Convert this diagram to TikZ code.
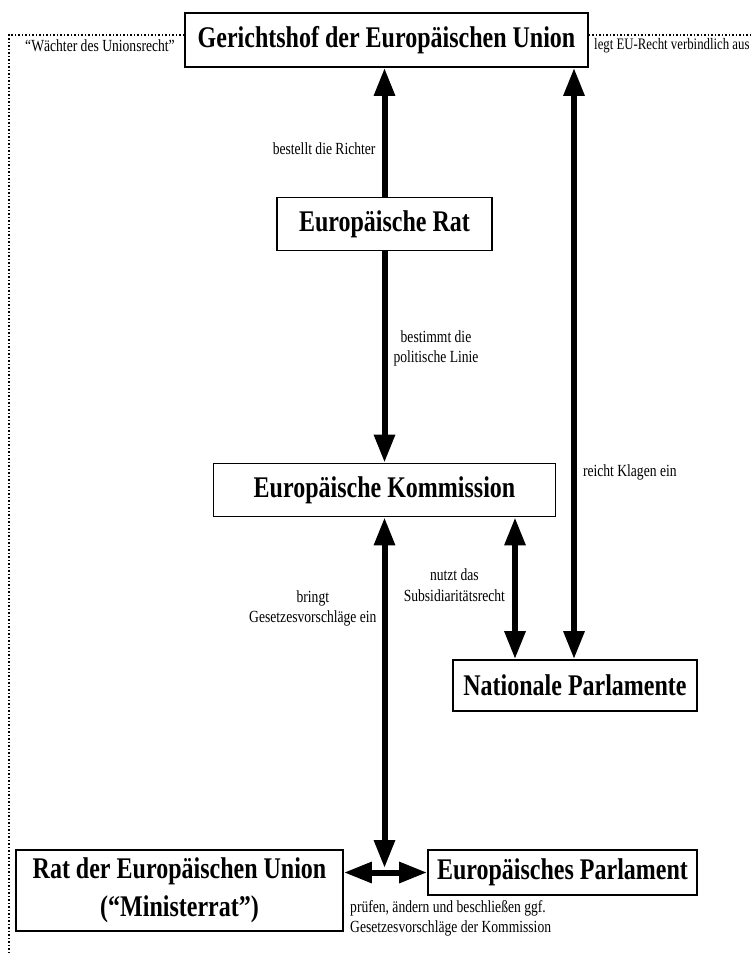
\documentclass[tikz,border=0pt]{standalone}
\usepackage{fontspec}
\setmainfont{Liberation Serif}[FakeStretch=0.8]
\usetikzlibrary{arrows.meta}

\tikzset{
  organ/.style={draw, line width=1.8pt, font=\fontsize{30}{38}\selectfont\bfseries,
    inner sep=0pt, align=center},
  note/.style={font=\fontsize{17}{20.5}\selectfont, inner sep=0pt, align=center},
  bigarrow/.style={line width=6pt, {Triangle[length=28pt,width=20pt]}-{Triangle[length=28pt,width=20pt]}},
  toarrow/.style={line width=6pt, -{Triangle[length=28pt,width=20pt]}},
}

\begin{document}
\begin{tikzpicture}[x=1pt, y=-1pt]
    \useasboundingbox (0, 0) rectangle (752, 953);

    % die Organe
    \node[organ, minimum width=403pt, minimum height=54pt] (gh) at (386.5, 40) {Gerichtshof der Europäischen Union};
    \node[organ, minimum width=215pt, minimum height=53pt] (rat) at (384.5, 224) {Europäische Rat};
    \node[organ, minimum width=342pt, minimum height=53pt] (kom) at (384.5, 490) {Europäische Kommission};
    \node[organ, minimum width=244pt, minimum height=51pt] (natparl) at (575, 685.5) {Nationale Parlamente};
    \node[organ, minimum width=327pt, minimum height=81pt] (ministerrat) at (179.5, 890.5) {Rat der Europäischen Union\\(“Ministerrat”)};
    \node[organ, minimum width=269pt, minimum height=45pt] (ep) at (562.5, 872.5) {Europäisches Parlament};

    % Rahmen um den Gerichtshof
    \draw[dotted, line width=1.5pt] (gh.west |- 0, 35) -- (9, 35) -- (9, 953);
    \draw[dotted, line width=1.5pt] (gh.east |- 0, 35) -- (752, 35);
    \node[note, anchor=center] (waechter) at (100, 46) {“Wächter des Unionsrecht”};
    \node[note, anchor=west, font=\fontsize{16}{20}\selectfont] (legt) at (594, 46) {legt EU-Recht verbindlich aus};

    % Pfeile
    \draw[line width=6pt, {Triangle[length=28pt,width=20pt]}-] (gh.south -| rat.north) -- (rat.north)
      node[note, pos=0.63, left=6pt] (bestellt) {bestellt die Richter};
    \draw[toarrow] (rat.south) -- (kom.north)
      node[note, pos=0.46, right=6pt] (linie) {bestimmt die\\politische Linie};
    \draw[bigarrow] (ministerrat.east |- ep.west) -- (ep.west);
    \coordinate (mitte) at (kom.south |- 0, 868);
    \draw[bigarrow] (kom.south) -- (mitte)
      node[note, pos=0.26, left=5pt] (bringt) {bringt\\Gesetzesvorschläge ein};
    \draw[bigarrow] (kom.south -| 515, 0) -- (natparl.north -| 515, 0)
      node[note, pos=0.48, left=7pt] (subsidiar) {nutzt das\\Subsidiaritätsrecht};
    \draw[bigarrow] (gh.south -| 574, 0) -- (natparl.north -| 574, 0)
      node[note, pos=0.685, right=6pt] (klagen) {reicht Klagen ein};

    \node[note, anchor=north west, align=left] (pruefen) at (350, 900)
      {prüfen, ändern und beschließen ggf.\\Gesetzesvorschläge der Kommission};
\end{tikzpicture}
\end{document}
